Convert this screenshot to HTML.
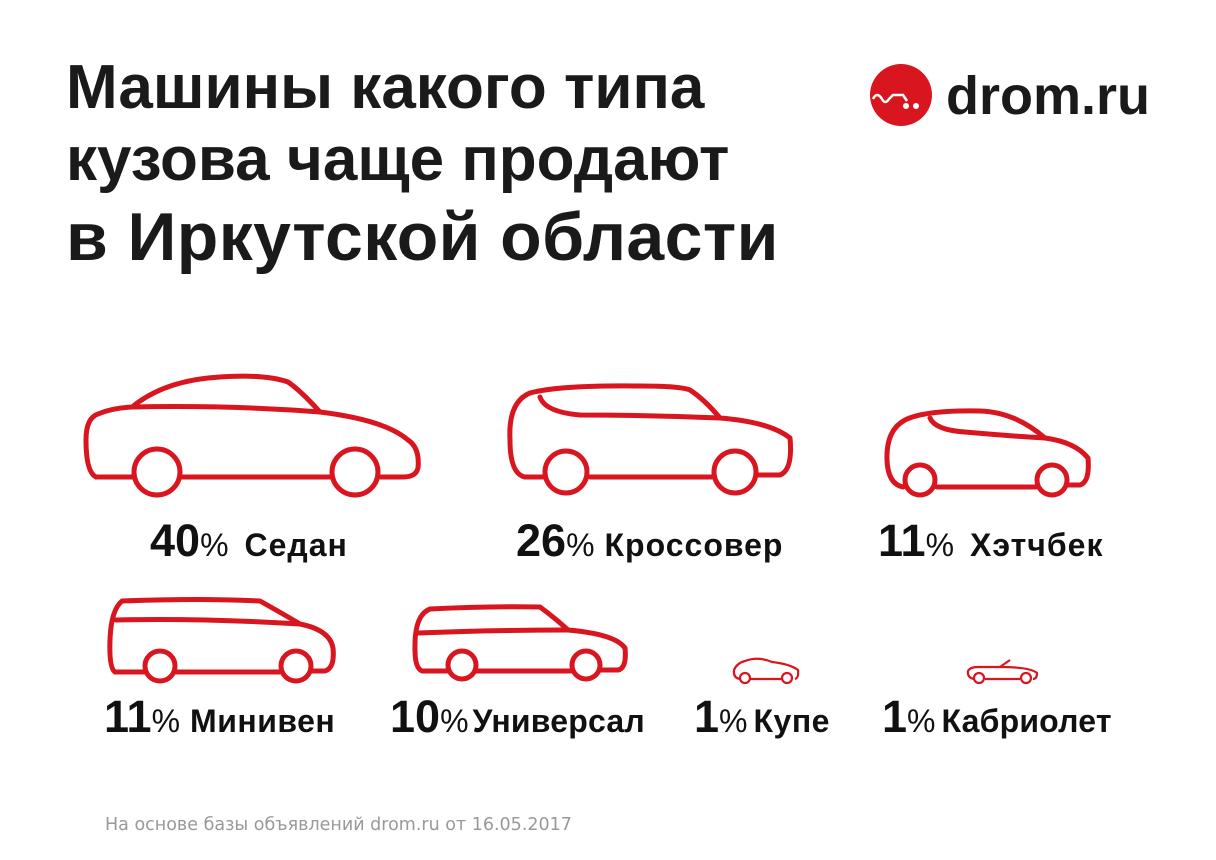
<!DOCTYPE html>
<html><head><meta charset="utf-8"><style>
html,body{margin:0;padding:0;background:#fff;}
body{width:1216px;height:860px;overflow:hidden;position:relative;font-family:"Liberation Sans","DejaVu Sans",sans-serif;}
svg{position:absolute;left:0;top:0}
</style></head><body>
<svg width="1216" height="860" viewBox="0 0 1216 860" xmlns="http://www.w3.org/2000/svg">
<g font-family="'Liberation Sans','DejaVu Sans',sans-serif" fill="#1a1a1a">
<text x="66" y="108" font-size="62" font-weight="bold">Машины какого типа</text>
<text x="66" y="180" font-size="62" font-weight="bold">кузова чаще продают</text>
<text x="66" y="260" font-size="68" font-weight="bold" letter-spacing="0.4">в Иркутской области</text>
<text x="946" y="114" font-size="54" font-weight="bold">drom.ru</text>
</g>
<circle cx="901" cy="95" r="31" fill="#d9151f"/>
<path d="M873 99 q4-8 9 0 q3 6 7 0 l4-4 h10 l4 6" stroke="#fff" stroke-width="2.5" fill="none"/>
<circle cx="906" cy="106" r="3" fill="#fff"/><circle cx="916" cy="106" r="3" fill="#fff"/>
<g fill="none" stroke="#d9151f" stroke-width="5" stroke-linejoin="round" stroke-linecap="round">
<path d="M133 477 H96 Q86 472 86 440 Q86 418 98 414 Q112 408 132 407 Q165 380 220 377 Q265 374 288 382 Q300 390 320 412 Q385 420 408 440 Q420 448 418 468 Q416 477 403 477 H380 M180 477 H332"/>
<path d="M132 407 Q230 405 320 412"/>
<circle cx="157" cy="472" r="23"/><circle cx="355" cy="472" r="23"/>
<path d="M543 477 H525 Q510 474 510 440 Q508 402 530 393 Q560 385 640 386 Q680 386 690 390 Q705 400 720 418 Q770 422 790 438 Q793 470 780 475 H758 M590 477 H712"/>
<path d="M540 397 Q545 412 580 415 Q650 415 720 418"/>
<circle cx="566" cy="472" r="21"/><circle cx="735" cy="472" r="21"/>
<path d="M903 487 Q888 484 887 460 Q886 430 905 420 Q925 410 980 411 Q1015 412 1045 438 Q1075 442 1088 458 Q1090 482 1080 485 H1067 M937 487 H1036"/>
<path d="M930 418 Q935 430 965 432 Q1010 436 1045 438"/>
<circle cx="920" cy="480" r="15"/><circle cx="1052" cy="480" r="15"/>
<path d="M145 672 H115 Q109 668 110 640 Q111 610 122 601 Q200 598 260 601 Q285 615 300 624 Q330 630 333 648 Q335 668 325 671 H312 M174 672 H280"/>
<path d="M116 620 Q200 618 300 624"/>
<circle cx="160" cy="666" r="15"/><circle cx="296" cy="666" r="15"/>
<path d="M447 671 H422 Q415 668 415 650 Q414 615 430 609 Q490 606 540 607 Q555 618 568 630 Q615 634 625 648 Q627 668 618 670 H601 M476 671 H571"/>
<path d="M418 633 Q490 630 568 630"/>
<circle cx="462" cy="665" r="14"/><circle cx="586" cy="665" r="14"/>
</g>
<g fill="none" stroke="#d9151f" stroke-width="2.2" stroke-linejoin="round">
<path d="M740 679 Q733 678 734 670 Q737 663 745 661 Q758 656 772 662 Q790 664 798 670 Q799 678 795 679 M750 679 H782"/>
<circle cx="745" cy="678" r="5"/><circle cx="787" cy="678" r="5"/>
<path d="M974 679 Q967 678 968 671 Q970 667 978 667 H1000 L1010 660 M1000 667 Q1030 667 1037 673 Q1037 679 1033 679 M985 679 H1020"/>
<circle cx="979" cy="678" r="5"/><circle cx="1026" cy="678" r="5"/>
</g>
<g font-family="'Liberation Sans','DejaVu Sans',sans-serif" fill="#111">
<text x="150" y="556"><tspan font-size="45" font-weight="bold">40</tspan><tspan font-size="32">%</tspan><tspan font-size="32" font-weight="bold" dx="16" letter-spacing="1">Седан</tspan></text>
<text x="516" y="556"><tspan font-size="45" font-weight="bold">26</tspan><tspan font-size="32">%</tspan><tspan font-size="32" font-weight="bold" dx="10" letter-spacing="1">Кроссовер</tspan></text>
<text x="878" y="556"><tspan font-size="45" font-weight="bold">11</tspan><tspan font-size="32">%</tspan><tspan font-size="32" font-weight="bold" dx="16" letter-spacing="1">Хэтчбек</tspan></text>
<text x="104" y="732"><tspan font-size="45" font-weight="bold">11</tspan><tspan font-size="32">%</tspan><tspan font-size="32" font-weight="bold" dx="10" letter-spacing="0.5">Минивен</tspan></text>
<text x="390" y="732"><tspan font-size="45" font-weight="bold">10</tspan><tspan font-size="32">%</tspan><tspan font-size="32" font-weight="bold" dx="4" letter-spacing="0.2">Универсал</tspan></text>
<text x="694" y="732"><tspan font-size="45" font-weight="bold">1</tspan><tspan font-size="32">%</tspan><tspan font-size="32" font-weight="bold" dx="6" letter-spacing="0.5">Купе</tspan></text>
<text x="882" y="732"><tspan font-size="45" font-weight="bold">1</tspan><tspan font-size="32">%</tspan><tspan font-size="32" font-weight="bold" dx="6" letter-spacing="0.2">Кабриолет</tspan></text>
<text x="105" y="830" font-size="17.5" fill="#999" font-family="'DejaVu Sans',sans-serif">На основе базы объявлений drom.ru от 16.05.2017</text>
</g>
</svg>
</body></html>
